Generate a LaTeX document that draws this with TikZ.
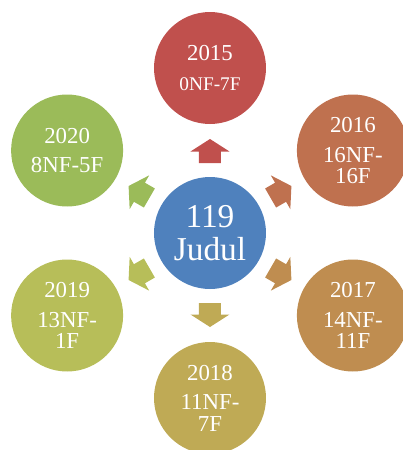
\documentclass[tikz,border=0pt]{standalone}
\usepackage{fontspec}
\setmainfont{Liberation Serif}
\usetikzlibrary{calc}

\definecolor{cJudul}{HTML}{4F81BD}
\definecolor{c15}{HTML}{C0504D}
\definecolor{c16}{HTML}{BF714F}
\definecolor{c17}{HTML}{BF8D50}
\definecolor{c18}{HTML}{BFAA55}
\definecolor{c19}{HTML}{B7BE59}
\definecolor{c20}{HTML}{9BBB59}

\begin{document}
\begin{tikzpicture}[ball/.style={circle, minimum size=2.24cm, inner sep=0pt, text=white, align=center, font=\fontsize{13}{12}\selectfont}]
    \useasboundingbox (-4.2,-4.34) rectangle (3.86,4.66);
    \coordinate (O) at (0,0);
    \node[ball, fill=cJudul, font=\fontsize{19}{18.5}\selectfont] (judul) at (O) {119\\Judul};
    \foreach \a/\c/\n/\t in {90/c15/y15/{2015\\[5pt]{\fontsize{11}{12}\selectfont 0NF-7F}}, 30/c16/y16/{2016\\[5pt]16NF-\\16F}, -30/c17/y17/{2017\\[5pt]14NF-\\11F},
        -90/c18/y18/{2018\\[5pt]11NF-\\7F}, -150/c19/y19/{2019\\[5pt]13NF-\\1F}, 150/c20/y20/{2020\\[5pt]8NF-5F}} {
        \node[ball, fill=\c] (\n) at (\a:3.3) {\t};
        \fill[\c, rotate=\a] (1.40,-0.22) -- (1.63,-0.22) -- (1.63,-0.39) -- (1.88,0) -- (1.63,0.39) -- (1.63,0.22) -- (1.40,0.22) -- cycle;
    }
\end{tikzpicture}
\end{document}
